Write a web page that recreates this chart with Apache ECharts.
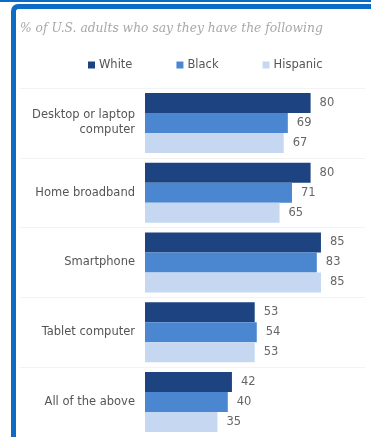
<!DOCTYPE html>
<html><head><meta charset="utf-8">
<script src="https://cdn.jsdelivr.net/npm/echarts@6/dist/echarts.min.js"></script>
<style>
html,body{margin:0;padding:0;width:371px;height:437px;overflow:hidden;background:#fff;}
#topbar{position:absolute;left:0;top:0;width:371px;height:2px;background:#0d6bc6;}
#panel{position:absolute;left:11px;top:4px;width:400px;height:480px;border-top:5px solid #0d6bc6;border-left:5px solid #0d6bc6;border-top-left-radius:7px;box-sizing:border-box;}
#c{position:absolute;left:0;top:0;width:371px;height:437px;}
</style></head>
<body>
<div id="c"></div>
<div id="topbar"></div>
<div id="panel"></div>
<script>
const categories = ['Desktop or laptop\ncomputer','Home broadband','Smartphone','Tablet computer','All of the above'];
const seriesNames = ['White','Black','Hispanic'];
const white = [80,80,85,53,42];
const black = [69,71,83,54,40];
const hispanic = [67,65,85,53,35];
const colors = ['#1d4480','#4b86d1','#c5d7f1'];
const vals = [white, black, hispanic];

const chart = echarts.init(document.getElementById('c'));
chart.setOption({
  backgroundColor:'#fff',
  animation:false,
  title:{text:'% of U.S. adults who say they have the following',left:15,top:18,
    textStyle:{fontFamily:'DejaVu Serif',fontStyle:'italic',fontWeight:'normal',fontSize:12.3,color:'#a8a8a8'}},
  legend:{data:seriesNames,top:54,left:83,itemWidth:7,itemHeight:7,itemGap:44,icon:'rect',
    textStyle:{fontFamily:'DejaVu Sans',fontSize:11.5,color:'#555',padding:[0,0,0,-1]}},
  grid:[{left:145,right:19,top:88,height:350,containLabel:false},
        {left:20,right:6,top:88,height:350,containLabel:false}],
  xAxis:[{type:'value',min:0,max:100,gridIndex:0,show:false},
         {type:'value',min:0,max:100,gridIndex:1,show:false}],
  yAxis:[{type:'category',data:categories,inverse:true,gridIndex:0,
          axisLine:{show:false},axisTick:{show:false},splitLine:{show:false},
          axisLabel:{margin:10,fontFamily:'DejaVu Sans',fontSize:11.5,color:'#555',lineHeight:15,align:'right'}},
         {type:'category',data:categories,inverse:true,gridIndex:1,
          axisLine:{show:false},axisTick:{show:false},axisLabel:{show:false},
          splitLine:{show:true,lineStyle:{color:'#f3f3f3',width:1}}}],
  series: vals.map((v,i)=>({
    name:seriesNames[i],type:'bar',data:v,barWidth:20,barGap:'0%',barCategoryGap:'14%',
    xAxisIndex:0,yAxisIndex:0,
    itemStyle:{color:colors[i]},
    label:{show:true,position:'right',distance:9,fontFamily:'DejaVu Sans',fontSize:11.5,color:'#666'}
  }))
});
</script>
</body></html>
